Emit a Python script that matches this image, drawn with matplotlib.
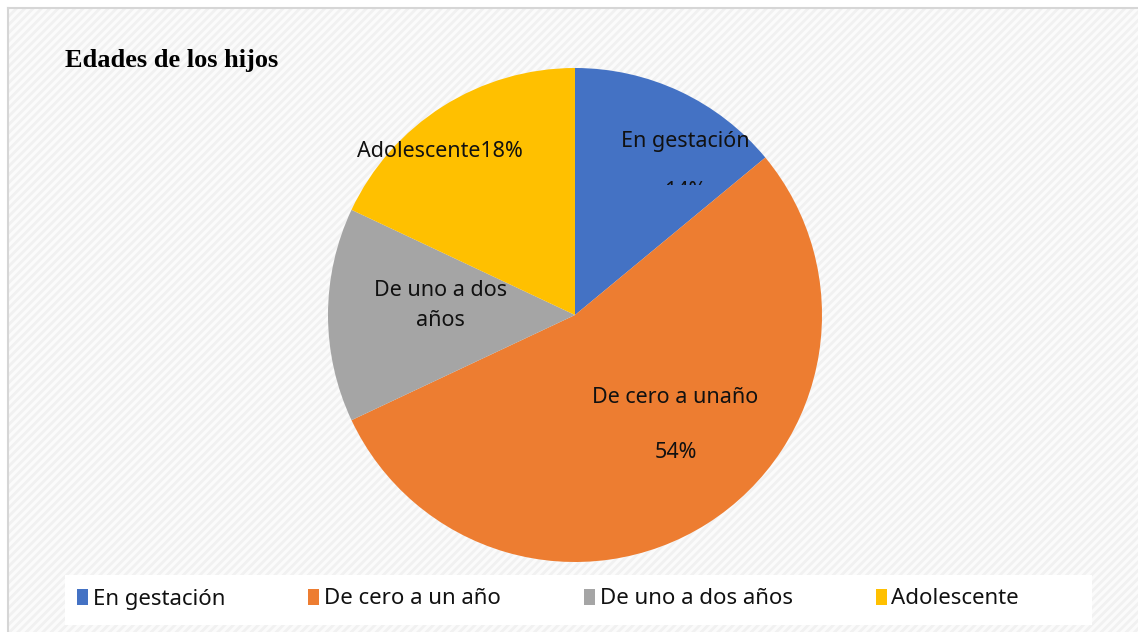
import matplotlib
matplotlib.use("Agg")
import matplotlib.pyplot as plt
from matplotlib.patches import Rectangle
from matplotlib.lines import Line2D
from matplotlib.transforms import Bbox, TransformedBbox

# data
categories = ["En gestación", "De cero a un año", "De uno a dos años", "Adolescente"]
shares = [14, 54, 14, 18]
colors = ["#4472C4", "#ED7D31", "#A5A5A5", "#FFC000"]

W, H = 1138, 632
plt.rcParams["hatch.linewidth"] = 2.0
fig = plt.figure(figsize=(W / 100, H / 100), dpi=100, facecolor="white")

# patterned chart area (runs off the right and bottom edges)
bg = Rectangle((8 / W, -0.05), 1.05, 1.05 - 8 / H, transform=fig.transFigure,
               facecolor="#fbfbfb", edgecolor="#f1f1f1", hatch="////",
               linewidth=0, zorder=-5)
fig.patches.append(bg)
fig.lines.append(Line2D([8 / W, 1], [1 - 8 / H, 1 - 8 / H], transform=fig.transFigure,
                        color="#d6d6d6", linewidth=1.5))
fig.lines.append(Line2D([8 / W, 8 / W], [0, 1 - 8 / H], transform=fig.transFigure,
                        color="#d6d6d6", linewidth=1.5))

# pie axes: centre (575, 315) px, radius 247 px
cx, cy, r = 575, 315, 247
ax = fig.add_axes([(cx - r) / W, (H - cy - r) / H, 2 * r / W, 2 * r / H], zorder=3)
ax.patch.set_alpha(0)
wedges, _ = ax.pie(shares, colors=colors, startangle=90, counterclock=False,
                   radius=1, wedgeprops=dict(linewidth=0))
ax.set_xlim(-1, 1)
ax.set_ylim(-1, 1)
ax.set_aspect("equal")
ax.axis("off")

lab = dict(fontsize=15.5, family=["Noto Sans", "DejaVu Sans"], color="#111111",
           ha="center", va="center")
ax.text(0.445, 0.704, "En gestación", **lab)
# the percentage of the first slice is mostly hidden in the reference
t = ax.text(0.445, 0.50, f"{shares[0]}%", **lab)
t.set_clip_on(True)
t.set_clip_box(TransformedBbox(Bbox([[0.2, 0.527], [0.8, 0.9]]), ax.transData))
ax.text(-0.547, 0.66, f"Adolescente{shares[3]}%", **lab)
ax.text(-0.543, 0.04, "De uno a dos\naños", linespacing=1.55, **lab)
ax.text(0.405, -0.332, "De cero a unaño", **lab)
ax.text(0.409, -0.555, f"{shares[1]}%", **lab)

# title
fig.text(65 / W, 1 - 61 / H, "Edades de los hijos", fontsize=19, fontweight="bold",
         family="Liberation Serif", va="center", ha="left")

# legend with white box
fig.patches.append(Rectangle((65 / W, 7 / H), 1027 / W, 50 / H, transform=fig.transFigure,
                             facecolor="white", edgecolor="none", zorder=1))
leg = fig.legend(wedges, categories, loc="center left", ncol=4,
                 bbox_to_anchor=(77 / W, 33 / H), frameon=False,
                 prop=dict(family=["Noto Sans", "DejaVu Sans"], size=16),
                 handlelength=0.5, handleheight=0.7, handletextpad=0.2,
                 columnspacing=3.75, borderpad=0, borderaxespad=0)
leg.set_zorder(4)
for txt in leg.get_texts():
    txt.set_color("#111111")

fig.savefig("out.png", dpi=100, facecolor="white")
